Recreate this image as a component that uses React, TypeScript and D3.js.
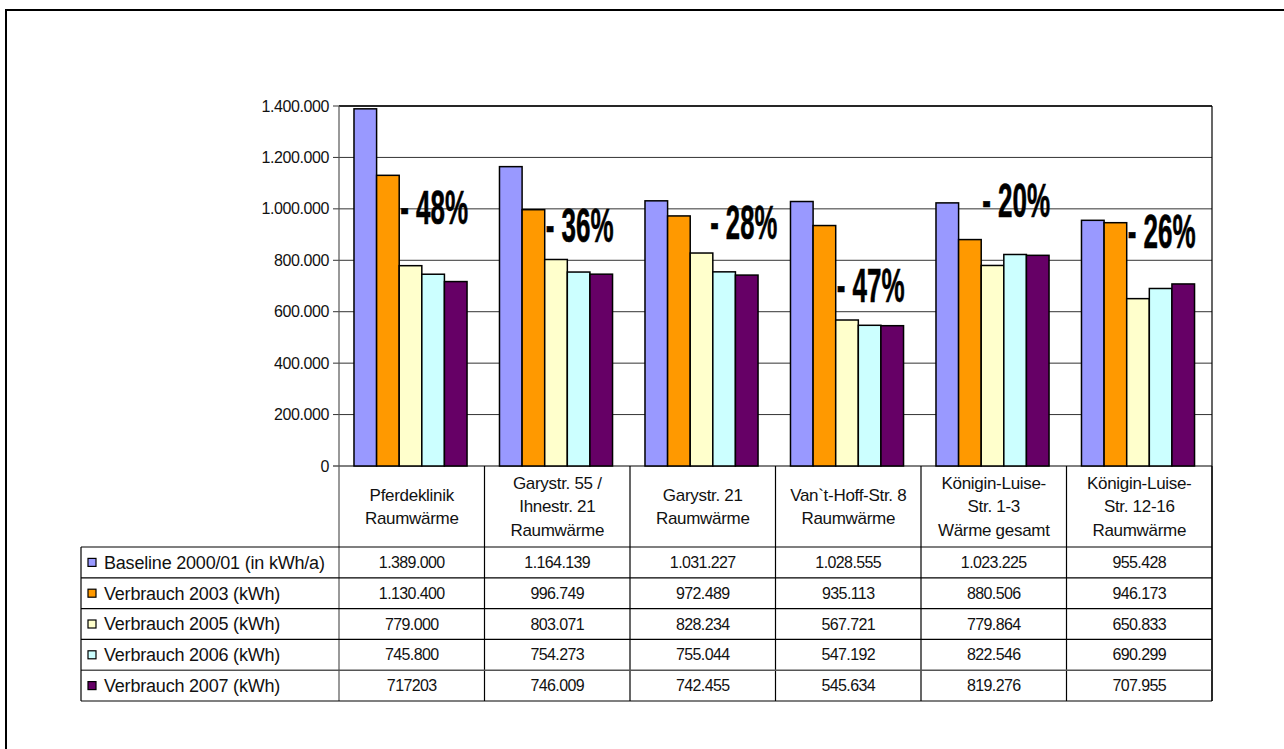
import React from "react";
import * as d3 from "d3";

const categories: string[][] = [
  ["Pferdeklinik", "Raumwärme"],
  ["Garystr. 55 /", "Ihnestr. 21", "Raumwärme"],
  ["Garystr. 21", "Raumwärme"],
  ["Van`t-Hoff-Str. 8", "Raumwärme"],
  ["Königin-Luise-", "Str. 1-3", "Wärme gesamt"],
  ["Königin-Luise-", "Str. 12-16", "Raumwärme"],
];

const seriesNames = [
  "Baseline 2000/01 (in kWh/a)",
  "Verbrauch 2003 (kWh)",
  "Verbrauch 2005 (kWh)",
  "Verbrauch 2006 (kWh)",
  "Verbrauch 2007 (kWh)",
];

const baseline = [1389000, 1164139, 1031227, 1028555, 1023225, 955428];
const v2003 = [1130400, 996749, 972489, 935113, 880506, 946173];
const v2005 = [779000, 803071, 828234, 567721, 779864, 650833];
const v2006 = [745800, 754273, 755044, 547192, 822546, 690299];
const v2007 = [717203, 746009, 742455, 545634, 819276, 707955];

const baselineText = ["1.389.000", "1.164.139", "1.031.227", "1.028.555", "1.023.225", "955.428"];
const v2003Text = ["1.130.400", "996.749", "972.489", "935.113", "880.506", "946.173"];
const v2005Text = ["779.000", "803.071", "828.234", "567.721", "779.864", "650.833"];
const v2006Text = ["745.800", "754.273", "755.044", "547.192", "822.546", "690.299"];
const v2007Text = ["717203", "746.009", "742.455", "545.634", "819.276", "707.955"];

const yTicks = [0, 200000, 400000, 600000, 800000, 1000000, 1200000, 1400000];

const pctLabels = ["- 48%", "- 36%", "- 28%", "- 47%", "- 20%", "- 26%"];
const pctAnchorValues = [1007000, 937000, 949000, 704000, 1034000, 914000];

const colors = ["#9999FF", "#FF9900", "#FFFFCC", "#CCFFFF", "#660066"];

export default function App() {
  const W = 1284, H = 749;
  const left = 339, right = 1212, top = 106, zeroY = 466;
  const tableTop = 547, tableBottom = 701, tableLeft = 81;
  const font = "'Liberation Sans', Arial, sans-serif";

  const series = [baseline, v2003, v2005, v2006, v2007];
  const seriesText = [baselineText, v2003Text, v2005Text, v2006Text, v2007Text];
  const idx = categories.map((_, i) => i);

  const y = d3.scaleLinear().domain([0, 1400000]).range([zeroY, top]);
  const x0 = d3.scaleBand<number>().domain(idx).range([left, right]).padding(0);
  const bw = x0.bandwidth();
  const x1 = d3.scaleBand<number>().domain(d3.range(5)).range([bw * 0.103, bw * 0.88]).padding(0);
  const rowH = (tableBottom - tableTop) / 5;
  const fmt = (v: number) => (v === 0 ? "0" : d3.format(",")(v).replace(/,/g, "."));
  const labelGap = [1, 1, 20, 1, 1, 1];

  return (
    <svg width={W} height={H} style={{ position: "absolute", left: 0, top: 0 }} fontFamily={font}>
      <rect x={0} y={0} width={W} height={H} fill="#fff" />
      <path d={`M6,${H + 5} V10 H${W + 5}`} fill="none" stroke="#000" strokeWidth={2} />

      {yTicks.map((t) => (
        <g key={t}>
          <line x1={left - 6} x2={right} y1={y(t)} y2={y(t)} stroke={t === 0 ? "#000" : "#333"} strokeWidth={1} />
          <text x={329} y={y(t)} dy="0.35em" textAnchor="end" fontSize={16} letterSpacing={-0.4} fill="#111">
            {fmt(t)}
          </text>
        </g>
      ))}
      <line x1={left} x2={right} y1={top} y2={top} stroke="#000" strokeWidth={1.5} />
      <line x1={right} x2={right} y1={top} y2={tableBottom} stroke="#000" strokeWidth={1.2} />
      <line x1={left} x2={left} y1={top} y2={tableBottom} stroke="#555" strokeWidth={1.2} />

      {idx.map((c) => (
        <g key={c}>
          {series.map((s, si) => (
            <rect
              key={si}
              x={x0(c)! + x1(si)!}
              y={y(s[c])}
              width={x1.bandwidth()}
              height={zeroY - y(s[c])}
              fill={colors[si]}
              stroke="#000"
              strokeWidth={1.5}
            />
          ))}
        </g>
      ))}

      {idx.map((c) => (
        <text
          key={c}
          x={x0(c)! + x1(1)! + x1.bandwidth() + labelGap[c]}
          y={y(pctAnchorValues[c])}
          dy="0.36em"
          fontSize={48}
          fontWeight="bold"
          textLength={labelGap[c] > 5 ? 67 : 68}
          lengthAdjust="spacingAndGlyphs"
          fill="#000"
          stroke="#000"
          strokeWidth={0.6}
        >
          {pctLabels[c]}
        </text>
      ))}

      {idx.map((c) => (
        <g key={c}>
          <line x1={x0(c)! + bw} x2={x0(c)! + bw} y1={zeroY} y2={tableBottom} stroke="#000" strokeWidth={1.2} />
          {categories[c].map((ln, li) => {
            const n = categories[c].length;
            const cy = (zeroY + tableTop) / 2 + (li - (n - 1) / 2) * 23.5;
            return (
              <text key={li} x={x0(c)! + bw / 2} y={cy} dy="0.35em" textAnchor="middle" fontSize={17} letterSpacing={-0.3} fill="#111">
                {ln}
              </text>
            );
          })}
        </g>
      ))}

      {d3.range(6).map((r) => (
        <line key={r} x1={tableLeft} x2={right} y1={tableTop + r * rowH} y2={tableTop + r * rowH} stroke={r === 4 ? "#555" : "#000"} strokeWidth={r === 4 ? 1.6 : 1.2} />
      ))}
      <line x1={tableLeft} x2={tableLeft} y1={tableTop} y2={tableBottom} stroke="#000" strokeWidth={1.2} />
      {seriesNames.map((nm, si) => {
        const cy = tableTop + rowH * (si + 0.5);
        return (
          <g key={si}>
            <rect x={88} y={cy - 4} width={8} height={8} fill={colors[si]} stroke="#000" strokeWidth={1.2} />
            <text x={104} y={cy} dy="0.35em" fontSize={18} letterSpacing={-0.2} fill="#111">
              {nm}
            </text>
            {idx.map((c) => (
              <text key={c} x={x0(c)! + bw / 2} y={cy} dy="0.35em" textAnchor="middle" fontSize={16} letterSpacing={-0.6} fill="#111">
                {seriesText[si][c]}
              </text>
            ))}
          </g>
        );
      })}
    </svg>
  );
}
